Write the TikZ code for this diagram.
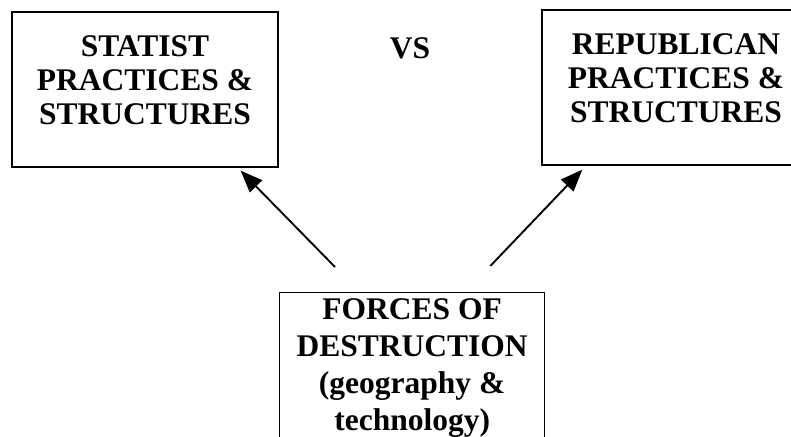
\documentclass[tikz,border=0pt]{standalone}
\usepackage{fontspec}
\setmainfont{Liberation Serif}
\usetikzlibrary{arrows.meta}
\begin{document}
\begin{tikzpicture}[x=1pt,y=-1pt,
  boxnode/.style={draw=black, line width=1.3pt, align=center, inner sep=0pt,
    font=\bfseries\fontsize{31.5}{34}\selectfont},
  plainlabel/.style={inner sep=0pt, font=\bfseries\fontsize{31.5}{34}\selectfont},
  arrowline/.style={line width=1.9pt, -{Triangle[length=22pt,width=17pt]}}]
\useasboundingbox (0,0) rectangle (791,436);
\clip (0,0) rectangle (791,436);
\node[boxnode, minimum width=266pt, minimum height=155pt, text depth=18pt] (statist) at (145,89.5)
  {STATIST\\PRACTICES \&\\STRUCTURES};
\node[boxnode, minimum width=268pt, minimum height=155pt, text depth=18pt] (republican) at (676,87.5)
  {REPUBLICAN\\PRACTICES \&\\STRUCTURES};
\node[plainlabel] (vs) at (410,48) {VS};
\node[boxnode, anchor=north west, minimum width=265pt, inner ysep=0pt, text depth=40pt,
  font=\bfseries\fontsize{31.5}{37}\selectfont] (dest) at (279,292)
  {\rule{0pt}{27pt}FORCES OF\\DESTRUCTION\\(geography \&\\technology)};
\draw[arrowline] ([xshift=56pt,yshift=25pt]dest.north west) -- ([xshift=-38pt,yshift=-3pt]statist.south east);
\draw[arrowline] ([xshift=-55pt,yshift=26pt]dest.north east) -- ([xshift=41pt,yshift=-4pt]republican.south west);
\end{tikzpicture}
\end{document}
